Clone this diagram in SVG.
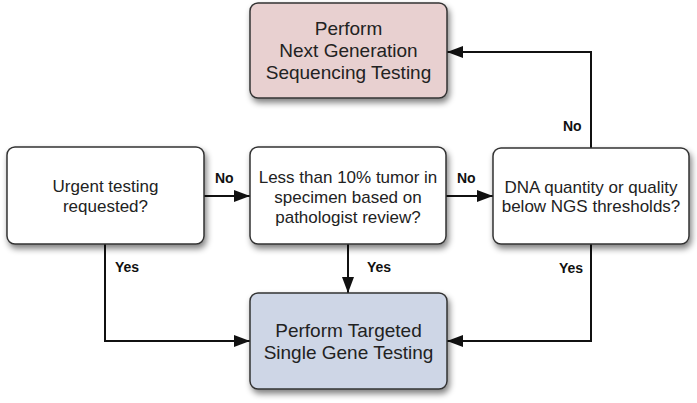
<svg xmlns="http://www.w3.org/2000/svg" width="697" height="403" viewBox="0 0 697 403">
<defs>
<filter id="sh" x="-10%" y="-10%" width="125%" height="130%">
<feGaussianBlur in="SourceAlpha" stdDeviation="3"/>
<feOffset dx="2" dy="4" result="b"/>
<feComponentTransfer><feFuncA type="linear" slope="0.5"/></feComponentTransfer>
<feMerge><feMergeNode/><feMergeNode in="SourceGraphic"/></feMerge>
</filter>
<marker id="ah" viewBox="0 0 16 12" refX="16" refY="6" markerWidth="16" markerHeight="12" markerUnits="userSpaceOnUse" orient="auto">
<path d="M0,0 L16,6 L0,12 Z" fill="#111"/>
</marker>
</defs>
<style>
.box{stroke:#333;stroke-width:1.5;filter:url(#sh)}
.q{fill:#fff}
.t{font-family:"Liberation Sans",Arial,sans-serif;font-size:17px;fill:#222;text-anchor:middle}
.big{font-size:19px}
.lb{font-family:"Liberation Sans",Arial,sans-serif;font-size:14px;font-weight:bold;fill:#111}
.c{fill:none;stroke:#111;stroke-width:2}
</style>
<rect width="697" height="403" fill="#fff"/>
<g id="connectors">
<line class="c" x1="204" y1="196" x2="250" y2="196" marker-end="url(#ah)"/>
<line class="c" x1="446" y1="196" x2="493" y2="196" marker-end="url(#ah)"/>
<polyline class="c" points="591,148 591,52 447,52" marker-end="url(#ah)"/>
<polyline class="c" points="591,244 591,341 447,341" marker-end="url(#ah)"/>
<line class="c" x1="348" y1="244" x2="348" y2="293" marker-end="url(#ah)"/>
<polyline class="c" points="105,244 105,341 250,341" marker-end="url(#ah)"/>
<text class="lb" x="215" y="183">No</text>
<text class="lb" x="457" y="183">No</text>
<text class="lb" x="563" y="131">No</text>
<text class="lb" x="115" y="272">Yes</text>
<text class="lb" x="367" y="272">Yes</text>
<text class="lb" x="559" y="273">Yes</text>
</g>
<g id="ngs">
<rect class="box" x="250" y="3" width="197" height="95" rx="8" fill="#e8d0d0"/>
<text class="t big" x="348.5" y="35">Perform</text>
<text class="t big" x="348.5" y="57">Next Generation</text>
<text class="t big" x="348.5" y="79">Sequencing Testing</text>
</g>
<g id="urgent">
<rect class="box q" x="7" y="147" width="197" height="97" rx="8"/>
<text class="t" x="105.5" y="192">Urgent testing</text>
<text class="t" x="105.5" y="212">requested?</text>
</g>
<g id="tumor">
<rect class="box q" x="250" y="147" width="196" height="97" rx="8"/>
<text class="t" x="348" y="183">Less than 10% tumor in</text>
<text class="t" x="348" y="203">specimen based on</text>
<text class="t" x="348" y="223">pathologist review?</text>
</g>
<g id="dna">
<rect class="box q" x="493" y="148" width="196" height="96" rx="8"/>
<text class="t" x="591" y="193">DNA quantity or quality</text>
<text class="t" x="591" y="212">below NGS thresholds?</text>
</g>
<g id="single">
<rect class="box" x="250" y="293" width="197" height="96" rx="8" fill="#ced6e6"/>
<text class="t big" x="348.5" y="337">Perform Targeted</text>
<text class="t big" x="348.5" y="359">Single Gene Testing</text>
</g>
</svg>
